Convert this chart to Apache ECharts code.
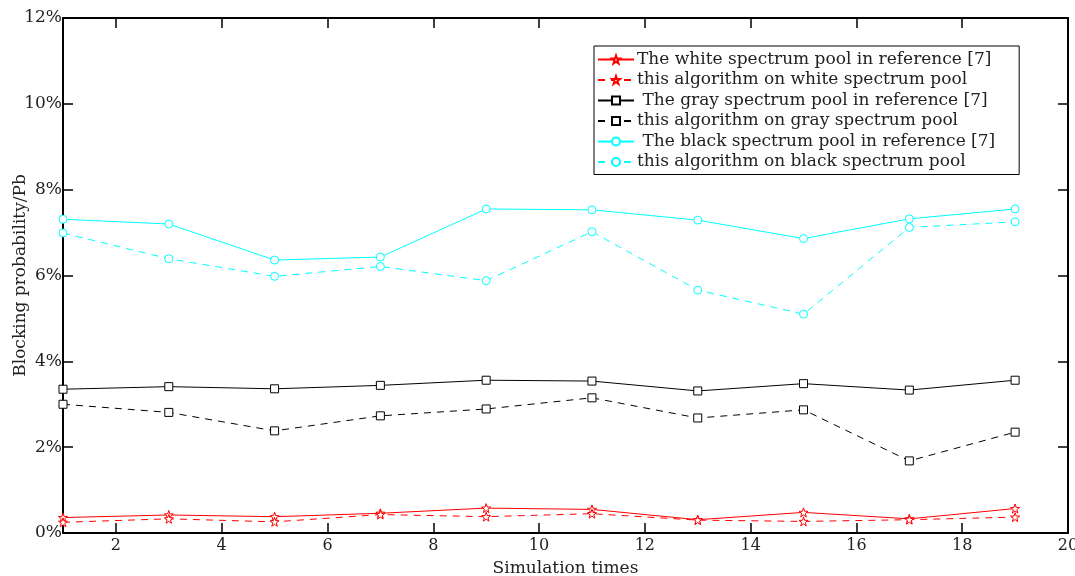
<!DOCTYPE html>
<html><head><meta charset="utf-8">
<script src="https://cdn.jsdelivr.net/npm/echarts@6/dist/echarts.min.js"></script>
<style>html,body{margin:0;padding:0;background:#fff}#c{width:1075px;height:576px}</style>
</head><body><div id="c"></div>
<script>
var xs = [1, 3, 5, 7, 9, 11, 13, 15, 17, 19];
var whiteRef = [0.36, 0.42, 0.38, 0.46, 0.58, 0.55, 0.31, 0.48, 0.33, 0.57];
var whiteAlg = [0.25, 0.33, 0.26, 0.43, 0.38, 0.45, 0.30, 0.27, 0.31, 0.37];
var grayRef = [3.35, 3.41, 3.36, 3.44, 3.56, 3.54, 3.31, 3.48, 3.33, 3.56];
var grayAlg = [3.00, 2.81, 2.38, 2.73, 2.89, 3.15, 2.68, 2.87, 1.68, 2.35];
var blackRef = [7.31, 7.20, 6.36, 6.43, 7.55, 7.53, 7.29, 6.86, 7.32, 7.55];
var blackAlg = [6.99, 6.39, 5.98, 6.21, 5.88, 7.02, 5.66, 5.10, 7.12, 7.25];
var names = [
  'The white spectrum pool in reference [7]',
  'this algorithm on white spectrum pool',
  ' The gray spectrum pool in reference [7]',
  'this algorithm on gray spectrum pool',
  ' The black spectrum pool in reference [7]',
  'this algorithm on black spectrum pool'
];
var xLabelVals = [2, 4, 6, 8, 10, 12, 14, 16, 18, 20];
var xTickVals = [2, 4, 6, 8, 10, 12, 14, 16, 18];

function pairs(v) { return xs.map(function (x, i) { return [x, v[i]]; }); }
var star = 'path://M0,-10 L2.35,-3.24 9.51,-3.09 3.8,1.24 5.88,8.09 0,4 -5.88,8.09 -3.8,1.24 -9.51,-3.09 -2.35,-3.24Z';
var font = 'DejaVu Serif';
function mk(name, data, color, dashed, symbol) {
  return {
    name: name, type: 'line', data: pairs(data), xAxisIndex: 0, yAxisIndex: 0,
    symbol: symbol, symbolSize: symbol === star ? 9 : 8,
    showSymbol: true,
    lineStyle: { color: color, width: 1, type: dashed ? [7, 6] : 'solid' },
    itemStyle: { color: '#fff', borderColor: color, borderWidth: 1 },
    emphasis: { disabled: true },
    animation: false
  };
}
var chart = echarts.init(document.getElementById('c'));
chart.setOption({
  animation: false,
  backgroundColor: '#fff',
  grid: { left: 63, right: 7, top: 18, bottom: 43, show: false, outerBoundsMode: 'none', containLabel: false },
  legend: {
    orient: 'vertical', left: 594, top: 46, itemGap: 3.5, itemWidth: 36, itemHeight: 10,
    borderColor: '#000', borderWidth: 1, padding: [5, 24, 4, 3], backgroundColor: '#fff',
    textStyle: { fontFamily: font, fontSize: 17, lineHeight: 17, color: '#222', padding: [0, 0, 0, -2] },
    data: names
  },
  xAxis: [{
    type: 'value', min: 1, max: 20, position: 'bottom',
    name: 'Simulation times', nameLocation: 'middle', nameGap: 27, nameMoveOverlap: false,
    nameTextStyle: { fontFamily: font, fontSize: 17, color: '#222' },
    axisLine: { show: true, onZero: false, lineStyle: { color: '#000', width: 2 } },
    axisTick: { show: true, inside: true, length: 10, customValues: xTickVals, lineStyle: { color: '#000', width: 1.5 } },
    axisLabel: { customValues: xLabelVals, fontFamily: font, fontSize: 16, color: '#222', margin: 5 },
    splitLine: { show: false }
  }, {
    type: 'value', min: 1, max: 20, position: 'top',
    axisLine: { show: true, onZero: false, lineStyle: { color: '#000', width: 2 } },
    axisTick: { show: true, inside: true, length: 10, customValues: xTickVals, lineStyle: { color: '#000', width: 1.5 } },
    axisLabel: { show: false },
    splitLine: { show: false }
  }],
  yAxis: [{
    type: 'value', min: 0, max: 12, interval: 2, position: 'left',
    name: 'Blocking probability/Pb', nameLocation: 'middle', nameGap: 34, nameRotate: 90, nameMoveOverlap: false,
    nameTextStyle: { fontFamily: font, fontSize: 17, color: '#222' },
    axisLine: { show: true, onZero: false, lineStyle: { color: '#000', width: 2 } },
    axisTick: { show: true, inside: true, length: 10, lineStyle: { color: '#000', width: 1.5 } },
    axisLabel: { formatter: '{value}%', fontFamily: font, fontSize: 17, color: '#222', margin: 1 },
    splitLine: { show: false }
  }, {
    type: 'value', min: 0, max: 12, interval: 2, position: 'right',
    axisLine: { show: true, onZero: false, lineStyle: { color: '#000', width: 2 } },
    axisTick: { show: true, inside: true, length: 10, lineStyle: { color: '#000', width: 1.5 } },
    axisLabel: { show: false },
    splitLine: { show: false }
  }],
  series: [
    mk(names[0], whiteRef, '#ff0000', false, star),
    mk(names[1], whiteAlg, '#ff0000', true, star),
    mk(names[2], grayRef, '#000000', false, 'rect'),
    mk(names[3], grayAlg, '#000000', true, 'rect'),
    mk(names[4], blackRef, '#00ffff', false, 'circle'),
    mk(names[5], blackAlg, '#00ffff', true, 'circle')
  ]
});
</script></body></html>
